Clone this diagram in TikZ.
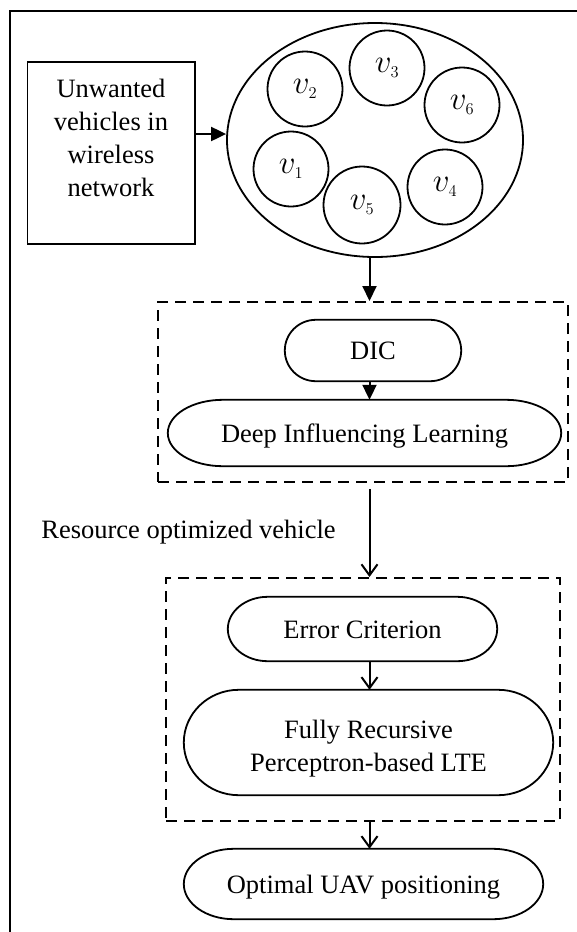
\RequirePackage{fix-cm}
\documentclass[tikz,border=0pt]{standalone}
\usepackage{fontspec}
\setmainfont{Liberation Serif}
\usetikzlibrary{arrows.meta,calc,shapes.geometric}

% Border of a capsule node: flat top and bottom, elliptical ends of x radius #2
\newcommand\capsuleborder[2]{%
  \draw[outline] let \p1=(#1.north west), \p2=(#1.south east), \n1={(\y1-\y2)/2} in
    (\x1+#2pt,\y1) -- (\x2-#2pt,\y1)
    arc[start angle=90,end angle=-90,x radius=#2pt,y radius=\n1]
    -- (\x1+#2pt,\y2)
    arc[start angle=-90,end angle=-270,x radius=#2pt,y radius=\n1] -- cycle;}
% vehicle label: italic v with a small index
\newcommand\veh[1]{$v_{\scriptscriptstyle #1}$}

\begin{document}
\begin{tikzpicture}[x=1pt,y=-1pt,
  every node/.style={font=\fontsize{26.5}{33}\selectfont},
  outline/.style={draw=black,line width=1.8pt},
  frame/.style={draw=black,line width=2pt},
  vehicle/.style={outline,circle,minimum size=75pt,inner sep=0pt,font=\fontsize{33}{33}\selectfont},
  group/.style={draw=black,line width=2pt,dash pattern=on 11pt off 7pt,inner sep=0pt},
  capsule/.style={inner sep=0pt,text height=18pt,text depth=0pt},
  tri/.style={line width=2pt,-{Triangle[length=15pt,width=14pt]}},
  barb/.style={line width=2pt,-{Straight Barb[length=11pt,width=16pt]}}]
\useasboundingbox (0,0) rectangle (576,932);

% outer frame (only its top and left sides fall on the page)
\draw[frame] (9.5,940) |- (585,10.5);

% source box
\node[outline,minimum width=167.5pt,minimum height=182pt,inner sep=0pt] (src) at (111.25,153) {};
\node[align=center,inner sep=0pt] (srctext) at (111,138) {Unwanted\\vehicles in\\wireless\\network};

% network of vehicles
\node[outline,ellipse,minimum width=296pt,minimum height=234pt,inner sep=0pt] (net) at (375,140) {};
\node[vehicle] (v2) at (305,89) {\veh{2}};
\node[vehicle] (v3) at (387,68) {\veh{3}};
\node[vehicle] (v6) at (462,105) {\veh{6}};
\node[vehicle] (v1) at (291,169) {\veh{1}};
\node[vehicle,minimum height=77pt] (v5) at (362,205) {\veh{5}};
\node[vehicle] (v4) at (445,187) {\veh{4}};

% dashed groups
\node[group,minimum width=410pt,minimum height=180pt] (grp1) at (363,392) {};
\node[group,minimum width=394pt,minimum height=243pt] (grp2) at (363,699.5) {};

% processing stages
\node[capsule,minimum width=176pt,minimum height=61pt] (dic) at (373,350.5) {DIC};
\node[capsule,minimum width=393pt,minimum height=66pt] (dil) at (364.5,433) {Deep Influencing Learning};
\node[capsule,minimum width=269pt,minimum height=64pt] (ec) at (362.5,629) {Error Criterion};
\node[inner sep=0pt,minimum width=369pt,minimum height=105pt] (frp) at (368.5,742.5) {};
\node[align=center,inner sep=0pt] (frptext) at (368.5,749) {Fully Recursive\\Perceptron-based LTE};
\node[capsule,minimum width=359pt,minimum height=70pt] (opt) at (363.5,884) {Optimal UAV positioning};
\capsuleborder{dic}{31}
\capsuleborder{dil}{55}
\capsuleborder{ec}{40}
\capsuleborder{frp}{55}
\capsuleborder{opt}{50}

\node[anchor=base,inner sep=0pt] (res) at (188.5,538) {Resource optimized vehicle};

% connectors
\coordinate (spine) at (369.5,0);
\draw[tri] (src.east |- 0,134) -- (net.west |- 0,134);
\draw[tri] (net.south -| spine) -- (grp1.north -| spine);
\draw[tri] (dic.south -| spine) -- (dil.north -| spine);
\draw[barb,shorten <=6pt] (grp1.south -| spine) -- (grp2.north -| spine);
\draw[barb] (ec.south -| spine) -- (frp.north -| spine);
\draw[barb] (grp2.south -| spine) -- (opt.north -| spine);
\end{tikzpicture}
\end{document}
